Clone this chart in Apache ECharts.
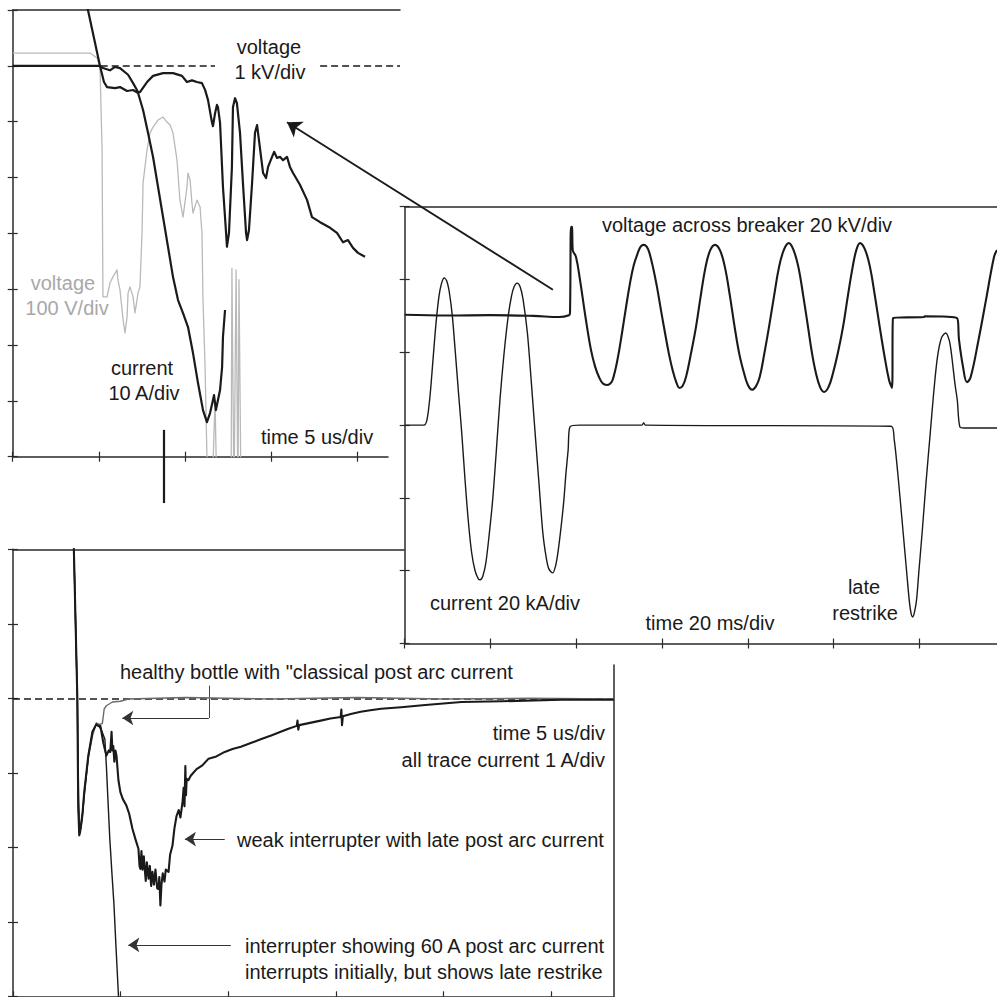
<!DOCTYPE html>
<html>
<head>
<meta charset="utf-8">
<script src="https://cdn.jsdelivr.net/npm/echarts@6/dist/echarts.min.js"></script>
<style>
  html, body { margin: 0; padding: 0; background: #fff; }
  #chart { width: 997px; height: 997px; }
</style>
</head>
<body>
<div id="chart"></div>
<script>
// ---------- Interruption detail: time in us (5 us/div) ----------
// voltage across the bottle, kV (1 kV/div)
const zoomVoltage_kV = [[0,0],[5.07,0],[5.24,-0.04],[5.65,-0.08],[5.94,-0.02],[6.23,-0.04],[6.70,-0.16],[6.99,-0.31],[7.28,-0.47],[7.39,-0.47],[7.80,-0.29],[8.15,-0.18],[8.73,-0.13],[9.31,-0.13],[9.83,-0.18],[10.12,-0.29],[10.41,-0.26],[10.70,-0.29],[10.99,-0.31],[11.17,-0.43],[11.34,-0.61],[11.57,-1.01],[11.63,-1.08],[11.75,-0.85],[11.86,-0.70],[11.92,-0.74],[12.04,-1.02],[12.21,-2.17],[12.39,-2.99],[12.44,-3.24],[12.56,-2.99],[12.73,-1.81],[12.79,-0.74],[12.91,-0.58],[13.02,-0.67],[13.20,-1.20],[13.37,-2.10],[13.55,-2.99],[13.61,-3.12],[13.72,-2.94],[13.90,-2.10],[14.07,-1.20],[14.19,-1.06],[14.30,-1.33],[14.54,-1.92],[14.71,-2.01],[14.83,-1.81],[15.06,-1.63],[15.18,-1.54],[15.35,-1.65],[15.52,-1.63],[15.70,-1.69],[15.93,-1.63],[16.10,-1.81],[16.28,-1.92],[16.68,-2.13],[17.09,-2.40],[17.38,-2.71],[17.85,-2.80],[18.43,-2.90],[18.83,-2.99],[19.18,-3.16],[19.47,-3.12],[19.76,-3.26],[20.05,-3.35],[20.46,-3.42]];
// current through the bottle, A (10 A/div)
const zoomCurrent_A = [[4.23,12.1],[4.37,9.99],[5.07,-0.04],[5.30,-2.90],[5.48,-3.80],[5.94,-3.98],[6.23,-3.80],[6.64,-4.51],[6.99,-4.33],[7.28,-4.87],[7.57,-7.92],[7.86,-12.04],[8.15,-16.33],[8.44,-21.70],[8.73,-27.08],[9.02,-32.45],[9.31,-37.83],[9.60,-41.94],[9.89,-44.27],[10.18,-46.78],[10.47,-51.44],[10.76,-56.81],[11.05,-61.65],[11.28,-63.80],[11.46,-62.19],[11.63,-59.86],[11.69,-58.97],[11.80,-61.65],[11.92,-59.86],[12.04,-58.07],[12.16,-53.94],[12.21,-48.57],[12.33,-43.73]];
// low range voltage probe, V (100 V/div)
const zoomArcVoltage_V = [[0,22.9],[4.49,22.9],[4.90,14.0],[5.07,-2.1],[5.19,-150.8],[5.24,-413.7],[5.48,-413.7],[5.65,-388.6],[5.82,-377.9],[6.06,-365.4],[6.11,-383.3],[6.23,-401.2],[6.41,-454.9],[6.52,-478.2],[6.64,-449.6],[6.70,-406.6],[6.81,-395.8],[6.99,-413.7],[7.10,-442.4],[7.22,-419.1],[7.28,-406.6],[7.39,-395.8],[7.51,-299.5],[7.57,-209.9],[7.80,-150.8],[7.97,-120.5],[8.15,-109.6],[8.44,-97.1],[8.73,-91.7],[8.96,-100.7],[9.14,-106.0],[9.31,-120.4],[9.54,-168.7],[9.71,-240.4],[9.89,-270.8],[10.12,-217.1],[10.18,-192.0],[10.30,-204.6],[10.41,-245.7],[10.47,-263.6],[10.70,-240.4],[10.88,-252.9],[10.99,-299.5],[11.05,-419.5],[11.17,-539.1],[11.28,-700.3],[11.34,-777],[11.57,-777],[11.75,-598.6],[11.86,-777],[12.68,-777],[12.73,-362.2],[12.85,-777],[12.97,-365.4],[13.08,-777],[13.14,-383.0],[13.26,-777]];

// ---------- Full record: time in ms (20 ms/div) ----------
const breakerVoltage_kV = [[0,0.3],[10,0.1],[20,0.2],[30,0],[36,-0.3],[38.3,0.2],[38.53,0.8],[38.77,24.5],[39.0,24.4],[39.16,18.1],[39.93,16.2],[40.86,9.9],[42.14,-0.3],[43.43,-9.4],[44.4,-14.0],[45.29,-16.8],[46.2,-18.6],[47.11,-19.0],[47.8,-18.7],[48.46,-17.6],[49.6,-12.0],[50.65,-4.7],[51.6,2.5],[52.52,9.0],[53.4,14.0],[54.34,17.3],[55.0,19.0],[55.69,19.5],[56.4,19.0],[57.04,17.3],[57.9,13.2],[58.81,7.9],[59.7,1.8],[60.68,-4.7],[61.6,-10.5],[62.45,-14.9],[63.3,-18.2],[64.08,-19.8],[64.8,-19.2],[65.57,-16.8],[66.7,-10.5],[67.90,-3.0],[69.0,5.5],[70.12,13.4],[71.2,18.0],[72.33,19.5],[73.5,18.0],[74.64,13.4],[75.8,5.5],[76.90,-3.0],[78.0,-10.5],[79.09,-15.7],[80.0,-19.0],[80.96,-20.3],[81.9,-19.3],[82.75,-16.8],[83.8,-10.5],[84.92,-3.0],[86.1,5.5],[87.25,13.4],[88.4,18.2],[89.53,20.0],[90.6,18.2],[91.77,13.4],[92.9,5.5],[94.01,-3.0],[94.9,-10.0],[95.85,-15.7],[96.8,-19.5],[97.74,-20.9],[98.8,-19.5],[99.84,-15.7],[101.0,-10.0],[102.17,-3.0],[103.3,5.5],[104.41,13.4],[105.3,18.2],[106.13,20.0],[107.3,18.2],[108.46,13.4],[109.6,5.5],[110.72,-3.0],[111.8,-10.8],[112.89,-17.6],[113.59,-19.8],[113.82,-0.6],[121.05,-0.3],[121.2,-0.1],[128.74,-0.6],[129.21,-6.6],[130.14,-14.0],[131.07,-18.2],[131.93,-16.8],[133.75,-6.6],[135.50,4.4],[137.36,16.2],[138.06,18.1]];
const breakerCurrent_kA = [[0,0],[4.5,0],[5.2,1.5],[5.9,8],[6.6,18],[7.3,28],[8.0,35.5],[8.6,39],[9.2,40.4],[9.8,39.6],[10.4,36.5],[11.1,30],[11.8,20],[12.6,8],[13.3,-2.2],[14.0,-14],[14.8,-26],[15.6,-35],[16.4,-40],[17.2,-42.3],[17.6,-42.5],[18.2,-41.5],[18.9,-38],[19.7,-30],[20.5,-20.6],[21.3,-8],[22.2,6.9],[23.1,19],[24.1,29.7],[24.9,35.5],[25.5,38],[26.2,39],[26.9,38],[27.6,34.5],[28.6,25.3],[29.5,12],[30.4,-2.2],[31.3,-16],[32.2,-29.6],[33.0,-36.5],[33.6,-39.5],[34.5,-40.6],[35.2,-38.5],[35.8,-34.3],[36.5,-27.5],[37.1,-20.6],[37.6,-13],[38.1,-6.8],[38.5,-0.5],[40.9,0],[55.3,0],[55.7,0.6],[56.1,0],[113.4,-0.3],[114.1,-4],[114.8,-11.6],[115.5,-20.5],[116.2,-29.7],[116.9,-39],[117.6,-48.1],[118.0,-51.5],[118.4,-52.7],[118.8,-51.5],[119.3,-48.1],[119.9,-39.5],[120.6,-29.7],[121.5,-16],[122.5,-2.2],[123.2,7.5],[123.9,16],[124.5,21],[125.2,24.2],[126.1,25.3],[126.9,23.4],[127.4,20],[127.8,16],[128.3,11],[128.8,6.9],[129.4,-0.5],[130.4,-0.8],[138.1,-0.8]];

// ---------- Post arc current: time in us (5 us/div), current in A (1 A/div) ----------
const healthyBottle_A = [[2.80,2.2],[2.83,1.98],[2.99,0],[3.05,-1.30],[3.10,-1.70],[3.16,-1.75],[3.25,-1.50],[3.35,-1.20],[3.50,-0.80],[3.70,-0.50],[3.87,-0.33],[4.00,-0.35],[4.15,-0.34],[4.24,-0.14],[4.34,-0.10],[4.62,-0.05],[4.99,-0.04],[5.36,-0.01],[8,0.01],[12,-0.01],[16,0.01],[20,-0.01],[24,0],[27.93,-0.01]];
const weakInterrupter_A = [[2.80,2.2],[2.83,1.98],[2.99,0],[3.03,-1.44],[3.08,-1.84],[3.12,-1.79],[3.22,-1.58],[3.31,-1.26],[3.50,-0.77],[3.69,-0.45],[3.87,-0.35],[3.97,-0.37],[4.06,-0.37],[4.20,-0.60],[4.34,-0.77],[4.45,-0.70],[4.52,-0.72],[4.58,-0.45],[4.62,-0.70],[4.66,-0.64],[4.71,-0.85],[4.76,-0.70],[4.81,-0.77],[4.90,-1.10],[4.99,-1.26],[5.10,-1.35],[5.27,-1.44],[5.40,-1.55],[5.55,-1.75],[5.70,-1.90],[5.83,-2.02],[5.88,-2.25],[5.92,-2.29],[5.97,-2.05],[6.02,-2.30],[6.08,-2.12],[6.11,-2.25],[6.17,-2.45],[6.22,-2.20],[6.30,-2.42],[6.36,-2.25],[6.42,-2.52],[6.48,-2.33],[6.55,-2.50],[6.62,-2.30],[6.70,-2.55],[6.76,-2.56],[6.80,-2.40],[6.85,-2.78],[6.90,-2.50],[6.96,-2.35],[7.04,-2.46],[7.10,-2.30],[7.23,-2.33],[7.30,-2.10],[7.41,-1.98],[7.50,-1.75],[7.60,-1.58],[7.70,-1.50],[7.78,-1.60],[7.88,-1.39],[7.93,-1.20],[7.97,-1.45],[8.01,-0.91],[8.04,-1.30],[8.07,-1.08],[8.15,-1.10],[8.26,-1.04],[8.53,-0.95],[8.80,-0.90],[9.09,-0.81],[9.45,-0.78],[9.84,-0.72],[10.20,-0.68],[10.59,-0.65],[11.05,-0.60],[11.51,-0.55],[12.00,-0.50],[12.44,-0.45],[12.80,-0.41],[13.19,-0.37],[13.22,-0.30],[13.26,-0.42],[13.30,-0.36],[13.80,-0.33],[14.30,-0.30],[14.75,-0.27],[15.23,-0.25],[15.26,-0.15],[15.29,-0.36],[15.33,-0.24],[15.70,-0.21],[16.16,-0.18],[16.60,-0.16],[17.11,-0.14],[18.04,-0.12],[19.16,-0.09],[20.84,-0.05],[22.70,-0.04],[25.49,-0.02],[27.93,-0.02]];
const restrikeInterrupter_A = [[2.80,2.2],[2.83,1.98],[2.99,0],[3.04,-1.50],[3.09,-1.82],[3.14,-1.75],[3.23,-1.55],[3.32,-1.25],[3.50,-0.78],[3.69,-0.46],[3.87,-0.35],[3.97,-0.37],[4.10,-0.42],[4.27,-0.55],[4.34,-0.91],[4.41,-1.35],[4.50,-1.89],[4.60,-2.36],[4.69,-2.76],[4.78,-3.30],[4.85,-3.70],[4.90,-3.99],[4.92,-4.17]];

// tick positions for each panel
const zoomTimeTicks_us = [0, 5, 10, 15, 20];
const fullTimeTicks_ms = [0, 20, 40, 60, 80, 100, 120];
const postArcTimeTicks_us = [0, 5, 10, 15, 20, 25];

// ---------- drawing ----------
const INK = '#1a1a1a';
const FONT = '20px "Liberation Sans", Arial, Helvetica, sans-serif';

function axis(extra) {
  return Object.assign({
    type: 'value',
    axisLabel: { show: false },
    splitLine: { show: false },
    axisLine: { show: true, onZero: false, lineStyle: { color: '#2a2a2a', width: 1.5 } },
    axisTick: { show: true, length: 5, lineStyle: { color: '#2a2a2a', width: 1.2 } }
  }, extra);
}
function innerTicks(extra) {
  return axis(Object.assign({
    axisLine: { show: false, onZero: false },
    axisTick: { show: true, inside: true, length: 5, lineStyle: { color: '#2a2a2a', width: 1.2 } }
  }, extra));
}
function bare(extra) {
  return Object.assign({ type: 'value', show: false, axisLine: { onZero: false } }, extra);
}
function ticksAt(values, inside) {
  return { show: true, inside: !!inside, length: 5, customValues: values, lineStyle: { color: '#2a2a2a', width: 1.2 } };
}
function trace(name, data, xi, yi, color, width, extra) {
  return Object.assign({
    name, type: 'line', data, xAxisIndex: xi, yAxisIndex: yi,
    showSymbol: false, symbol: 'none', animation: false,
    lineStyle: { color, width, join: 'round' }
  }, extra);
}
function segments(coords, xi, yi, style, extra) {
  return Object.assign({
    type: 'lines', coordinateSystem: 'cartesian2d', xAxisIndex: xi, yAxisIndex: yi,
    polyline: false, clip: false, animation: false, silent: true,
    symbol: ['none', 'none'],
    lineStyle: Object.assign({ color: INK, width: 1.2, opacity: 1, curveness: 0 }, style),
    data: coords.map(c => ({ coords: c }))
  }, extra);
}
function label(text, x, y, align, color) {
  return {
    type: 'text', x, y, z: 100, silent: true,
    style: { text, font: FONT, fill: color || INK, textAlign: align || 'center', textVerticalAlign: 'middle' }
  };
}

const chart = echarts.init(document.getElementById('chart'), null, { renderer: 'svg' });

const option = {
  backgroundColor: '#fff',
  animation: false,
  grid: [
    { left: 12.7, top: 10, width: 387.3, height: 446.7 },            // 0: detail panel (data + top frame)
    { left: 12.7, top: 10, width: 375.3, height: 446.7 },            // 1: detail panel time axis
    { left: 13, top: 549.3, width: 601, height: 447 },               // 2: post arc panel
    { left: 13, top: 665, width: 601, height: 331.3 },               // 3: post arc panel right frame
    { left: 404.7, top: 206.7, width: 592.3, height: 436.8, show: true,
      backgroundColor: '#fff', borderWidth: 0, z: 10 }               // 4: full record panel
  ],
  xAxis: [
    axis({ gridIndex: 0, position: 'top', min: 0, max: 22.49, axisTick: { show: false } }),
    axis({ gridIndex: 1, position: 'bottom', min: 0, max: 21.79, interval: 5, axisTick: ticksAt(zoomTimeTicks_us) }),
    innerTicks({ gridIndex: 1, position: 'bottom', min: 0, max: 21.79, interval: 5, axisTick: ticksAt(zoomTimeTicks_us, true) }),
    axis({ gridIndex: 2, position: 'bottom', min: 0, max: 27.93, interval: 5, axisTick: ticksAt(postArcTimeTicks_us) }),
    innerTicks({ gridIndex: 2, position: 'bottom', min: 0, max: 27.93, interval: 5, axisTick: ticksAt(postArcTimeTicks_us, true) }),
    axis({ gridIndex: 2, position: 'top', min: 0, max: 27.93, axisTick: { show: false } }),
    bare({ gridIndex: 3, min: 0, max: 1 }),
    axis({ gridIndex: 4, position: 'bottom', min: 0, max: 138.06, interval: 20, z: 11, axisTick: ticksAt(fullTimeTicks_ms) }),
    innerTicks({ gridIndex: 4, position: 'bottom', min: 0, max: 138.06, interval: 20, z: 11, axisTick: ticksAt(fullTimeTicks_ms, true) }),
    axis({ gridIndex: 4, position: 'top', min: 0, max: 138.06, z: 11, axisTick: { show: false } })
  ],
  yAxis: [
    axis({ gridIndex: 0, position: 'left', min: -7, max: 1, interval: 1 }),           // 0: kV
    innerTicks({ gridIndex: 0, position: 'left', min: -7, max: 1, interval: 1 }),     // 1
    bare({ gridIndex: 0, min: -70, max: 10 }),                                         // 2: A
    bare({ gridIndex: 0, min: -700, max: 100 }),                                       // 3: V
    bare({ gridIndex: 1, min: -7, max: 1 }),                                           // 4
    axis({ gridIndex: 2, position: 'left', min: -4, max: 2, interval: 1 }),           // 5: A
    innerTicks({ gridIndex: 2, position: 'left', min: -4, max: 2, interval: 1 }),     // 6
    axis({ gridIndex: 3, position: 'right', min: 0, max: 1, axisTick: { show: false } }), // 7: right frame
    axis({ gridIndex: 4, position: 'left', min: -60, max: 60, interval: 20, z: 11 }),      // 8: kA
    innerTicks({ gridIndex: 4, position: 'left', min: -60, max: 60, interval: 20, z: 11 }),// 9
    bare({ gridIndex: 4, min: -90, max: 30 })                                               // 10: kV
  ],
  series: [
    // detail panel
    trace('voltage 100 V/div', zoomArcVoltage_V, 0, 3, '#b9b9b9', 1.3),
    segments([[[0, 0], [11.75, 0]], [[17.85, 0], [22.49, 0]]], 0, 0, { type: [7, 4], width: 1.6 }),
    trace('voltage 1 kV/div', zoomVoltage_kV, 0, 0, INK, 2.2),
    trace('current 10 A/div', zoomCurrent_A, 0, 2, INK, 2.2),
    segments([[[8.75, -6.52], [8.75, -7.83]]], 0, 0, { width: 2.2 }),
    // post arc panel
    segments([[[0, 0], [27.93, 0]]], 3, 5, { type: [7, 4], width: 1.6 }),
    trace('healthy bottle', healthyBottle_A, 3, 5, '#6a6a6a', 1.4),
    trace('60 A post arc current', restrikeInterrupter_A, 3, 5, INK, 1.4),
    trace('weak interrupter', weakInterrupter_A, 3, 5, INK, 2.1),
    segments([[[9.10, 0.169], [9.10, -0.264]]], 3, 5, { width: 1, color: '#444' }),
    segments([[[9.10, -0.264], [5.08, -0.264]], [[9.84, -1.89], [7.99, -1.89]], [[10.12, -3.31], [5.36, -3.31]]],
             3, 5, { width: 1.2, color: '#333' }, { symbol: ['none', 'arrow'], symbolSize: [7, 11] }),
    // full record panel
    trace('current 20 kA/div', breakerCurrent_kA, 7, 8, INK, 1.4, {
      z: 12, smooth: 0.3,
      markArea: {
        silent: true, label: { show: false },
        itemStyle: { color: 'rgba(0,0,0,0)', borderColor: INK, borderWidth: 1.6 },
        data: [[{ coord: [35.5, 34.9] }, { coord: [40.8, -6.8] }]]
      }
    }),
    trace('voltage across breaker 20 kV/div', breakerVoltage_kV, 7, 10, INK, 2.1,
          { z: 12, smooth: 0.4 }),
    // pointer from the marked window to the detail panel
    segments([[[31.37, -4.01], [15.93, -1.01]]], 0, 0, { width: 1.9 },
             { z: 30, symbol: ['none', 'arrow'], symbolSize: [9, 14] })
  ],
  graphic: {
    elements: [
      label('voltage', 269, 47),
      label('1 kV/div', 270, 72),
      label('voltage', 63, 283, 'center', '#a8a8a8'),
      label('100 V/div', 67, 308, 'center', '#a8a8a8'),
      label('current', 142, 368),
      label('10 A/div', 144, 393),
      label('time 5 us/div', 317, 437),

      label('voltage across breaker 20 kV/div', 747, 225),
      label('current 20 kA/div', 505, 603),
      label('time 20 ms/div', 710, 623),
      label('late', 864, 587),
      label('restrike', 865, 613),

      label('healthy bottle with "classical post arc current', 120, 672, 'left'),
      label('time 5 us/div', 605, 733, 'right'),
      label('all trace current 1 A/div', 605, 760, 'right'),
      label('weak interrupter with late post arc current', 237, 840, 'left'),
      label('interrupter showing 60 A post arc current', 245, 946, 'left'),
      label('interrupts initially, but shows late restrike', 245, 972, 'left')
    ]
  }
};

chart.setOption(option);
</script>
</body>
</html>
